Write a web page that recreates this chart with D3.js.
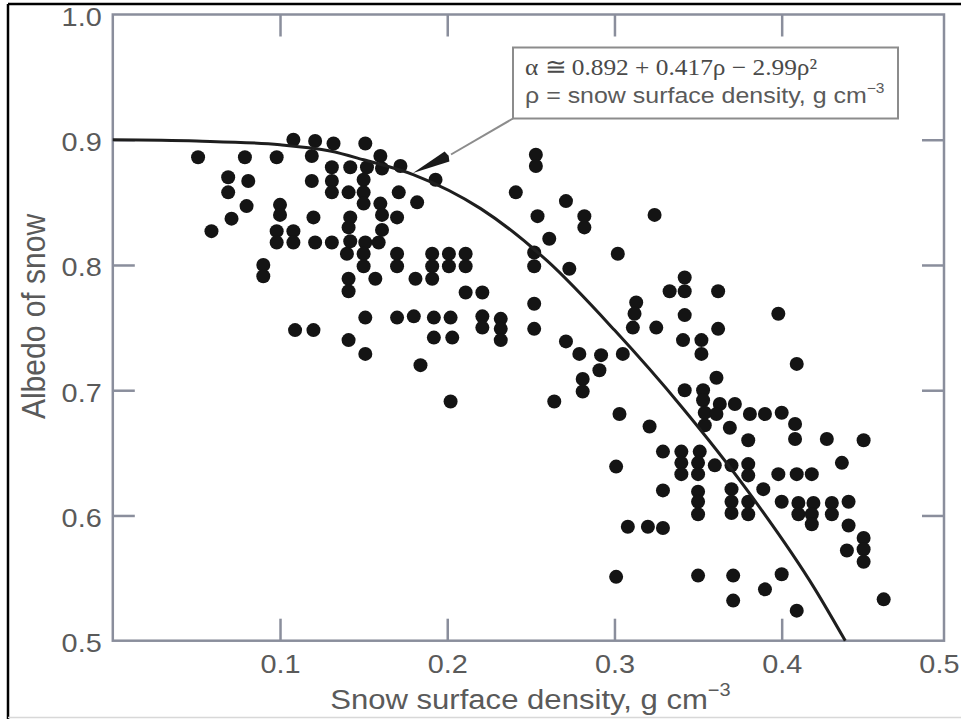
<!DOCTYPE html>
<html><head><meta charset="utf-8">
<script src="https://cdn.jsdelivr.net/npm/d3@7"></script>
<style>body{margin:0;background:#fff}svg{display:block}</style></head>
<body><svg id="c" width="961" height="719"></svg>
<script>
// ---------- data ----------
const xTicks = [0.1, 0.2, 0.3, 0.4, 0.5];
const yTicks = [0.5, 0.6, 0.7, 0.8, 0.9, 1.0];
const xTitle = "Snow surface density, g cm";
const xTitleSup = "\u22123";
const yTitle = "Albedo of snow";
const noteLine1 = "\u03b1 \u2245 0.892 + 0.417\u03c1 \u2212 2.99\u03c1\u00b2";
const noteLine2 = "\u03c1 = snow surface density, g cm";
const noteSup = "\u22123";

const density = [
0.051,0.059,0.069,0.069,0.071,0.079,0.080,0.081,0.090,0.090,
0.098,0.100,0.100,0.098,0.098,0.108,0.108,0.108,0.109,0.120,
0.121,0.119,0.119,0.120,0.121,0.131,0.131,0.131,0.131,0.132,
0.142,0.141,0.142,0.141,0.142,0.140,0.141,0.141,0.141,0.151,
0.152,0.150,0.150,0.150,0.151,0.150,0.150,0.151,0.151,0.160,
0.161,0.160,0.161,0.161,0.159,0.157,0.172,0.171,0.170,0.170,
0.170,0.170,0.180,0.182,0.181,0.184,0.193,0.191,0.191,0.191,
0.192,0.192,0.201,0.201,0.202,0.203,0.202,0.211,0.211,0.211,
0.221,0.221,0.221,0.232,0.232,0.232,0.241,0.253,0.253,0.254,
0.261,0.252,0.252,0.271,0.282,0.282,0.273,0.302,0.252,0.252,
0.271,0.279,0.292,0.291,0.305,0.281,0.281,0.264,0.303,0.301,
0.301,0.308,0.320,0.329,0.324,0.313,0.312,0.311,0.325,0.333,
0.342,0.342,0.342,0.341,0.352,0.352,0.362,0.362,0.398,0.409,
0.361,0.342,0.353,0.353,0.363,0.372,0.354,0.361,0.354,0.381,
0.390,0.400,0.321,0.369,0.408,0.408,0.380,0.427,0.449,0.329,
0.340,0.351,0.340,0.350,0.360,0.370,0.380,0.340,0.350,0.380,
0.398,0.409,0.418,0.436,0.329,0.350,0.350,0.350,0.370,0.370,
0.370,0.380,0.380,0.389,0.400,0.410,0.410,0.419,0.418,0.418,
0.430,0.430,0.440,0.440,0.449,0.449,0.449,0.439,0.350,0.371,
0.371,0.390,0.400,0.409,0.461
];
const albedo = [
0.886,0.827,0.870,0.858,0.837,0.886,0.847,0.867,0.800,0.791,
0.886,0.848,0.840,0.827,0.818,0.900,0.827,0.818,0.748,0.748,
0.899,0.887,0.867,0.838,0.818,0.878,0.867,0.858,0.818,0.897,
0.878,0.858,0.838,0.830,0.819,0.809,0.789,0.779,0.740,0.897,
0.878,0.868,0.858,0.849,0.818,0.809,0.799,0.758,0.729,0.887,
0.877,0.849,0.840,0.828,0.818,0.789,0.879,0.858,0.838,0.809,
0.799,0.758,0.759,0.850,0.789,0.720,0.868,0.809,0.799,0.789,
0.758,0.742,0.809,0.799,0.758,0.742,0.691,0.809,0.799,0.778,
0.778,0.759,0.750,0.757,0.749,0.740,0.858,0.888,0.879,0.839,
0.821,0.810,0.799,0.851,0.839,0.830,0.797,0.809,0.769,0.749,
0.739,0.729,0.728,0.716,0.729,0.709,0.699,0.691,0.681,0.639,
0.551,0.591,0.591,0.590,0.840,0.770,0.761,0.750,0.750,0.779,
0.790,0.779,0.760,0.740,0.740,0.729,0.779,0.749,0.761,0.721,
0.710,0.700,0.700,0.692,0.689,0.689,0.682,0.681,0.672,0.681,
0.681,0.682,0.671,0.670,0.673,0.661,0.660,0.661,0.660,0.651,
0.651,0.651,0.642,0.642,0.640,0.640,0.641,0.633,0.633,0.632,
0.633,0.633,0.633,0.642,0.620,0.619,0.611,0.601,0.621,0.611,
0.602,0.611,0.601,0.621,0.611,0.610,0.601,0.610,0.601,0.593,
0.610,0.601,0.611,0.592,0.582,0.573,0.563,0.572,0.552,0.552,
0.532,0.541,0.553,0.524,0.533
];
const fitDensity = [0, 0.05, 0.10, 0.13, 0.15, 0.18, 0.22, 0.26, 0.30, 0.34, 0.38, 0.42, 0.438];
const fitAlbedo  = [0.900, 0.899, 0.896, 0.891, 0.884, 0.872, 0.845, 0.803, 0.748, 0.687, 0.619, 0.541, 0.500];

// ---------- layout ----------
const svg = d3.select("#c");
const x = d3.scaleLinear().domain([0, 0.5]).range([112.8, 948.9]);
const y = d3.scaleLinear().domain([0.5, 1.0]).range([640.7, 14.5]);
const L = x(0), R = 944, T = y(1.0), B = y(0.5);
const axisCol = "#8a8e9c", textCol = "#5a5a5a";
const sans = "'Liberation Sans', Arial, sans-serif";
const serif = "'Liberation Serif', 'Times New Roman', serif";

svg.append("rect").attr("width", 961).attr("height", 719).attr("fill", "#fff");
// outer frame (image border)
svg.append("line").attr("x1", 8).attr("x2", 961).attr("y1", 4).attr("y2", 4).attr("stroke", "#000").attr("stroke-width", 2.5);
svg.append("line").attr("x1", 8).attr("x2", 8).attr("y1", 4).attr("y2", 719).attr("stroke", "#000").attr("stroke-width", 2.5);
svg.append("line").attr("x1", 8).attr("x2", 961).attr("y1", 717.5).attr("y2", 717.5).attr("stroke", "#d8d8d8").attr("stroke-width", 1.5);

function styleAxis(g) {
  g.select(".domain").remove();
  g.selectAll(".tick line").attr("stroke", axisCol).attr("stroke-width", 2.5);
  g.selectAll(".tick text").attr("fill", textCol).style("font-family", sans).style("font-size", "26px");
}
const fmt = d3.format(".1f");

const gB = svg.append("g").attr("transform", `translate(0,${B})`)
  .call(d3.axisBottom(x).tickValues(xTicks).tickSize(-22).tickPadding(13.5).tickFormat(fmt));
styleAxis(gB);
gB.selectAll(".tick").filter(d => d >= 0.5).select("line").remove();
gB.selectAll(".tick text").attr("transform", "scale(1.11,1)");
gB.selectAll(".tick").filter(d => d >= 0.5).select("text").attr("x", -9);

const gL = svg.append("g").attr("transform", `translate(${L},0)`)
  .call(d3.axisLeft(y).tickValues(yTicks).tickSize(-22).tickPadding(10).tickFormat(fmt));
styleAxis(gL);
gL.selectAll(".tick").filter(d => d <= 0.5 || d >= 1.0).select("line").remove();
gL.selectAll(".tick text").attr("dy", "0.42em").attr("transform", "scale(1.11,1)");

const gT = svg.append("g").attr("transform", `translate(0,${T})`)
  .call(d3.axisTop(x).tickValues(xTicks.filter(d => d < 0.5)).tickSize(-22).tickFormat(""));
styleAxis(gT);
const gR = svg.append("g").attr("transform", `translate(${R},0)`)
  .call(d3.axisRight(y).tickValues(yTicks.filter(d => d > 0.5 && d < 1.0)).tickSize(-22).tickFormat(""));
styleAxis(gR);

svg.append("rect").attr("x", L).attr("y", T).attr("width", R - L).attr("height", B - T)
  .attr("fill", "none").attr("stroke", axisCol).attr("stroke-width", 2.5);

// points
const pts = density.map((d, i) => [d, albedo[i]]);
svg.append("g").selectAll("circle").data(pts).join("circle")
  .attr("cx", d => x(d[0])).attr("cy", d => y(d[1])).attr("r", 7).attr("fill", "#141414");

// fitted curve
const fit = fitDensity.map((d, i) => [d, fitAlbedo[i]]);
svg.append("path").datum(fit)
  .attr("d", d3.line().x(d => x(d[0])).y(d => y(d[1])).curve(d3.curveMonotoneX))
  .attr("fill", "none").attr("stroke", "#1e1e1e").attr("stroke-width", 3);

// annotation box + arrow
const box = {x: 513, y: 47.5, w: 385, h: 71};
const tip = [413, 173], base = [447, 156.5];
svg.append("line").attr("x1", box.x).attr("y1", box.y + box.h).attr("x2", base[0] + 4).attr("y2", base[1] - 2)
  .attr("stroke", "#8c8c8c").attr("stroke-width", 2);
{
  const dx = tip[0] - base[0], dy = tip[1] - base[1], len = Math.hypot(dx, dy);
  const px = -dy / len * 5.5, py = dx / len * 5.5;
  svg.append("polygon")
    .attr("points", [[tip[0], tip[1]], [base[0] + px, base[1] + py], [base[0] - 1.8 * dx / len, base[1] - 1.8 * dy / len], [base[0] - px, base[1] - py]].map(p => p.join(",")).join(" "))
    .attr("fill", "#1a1a1a");
}
svg.append("rect").attr("x", box.x).attr("y", box.y).attr("width", box.w).attr("height", box.h)
  .attr("fill", "#fff").attr("stroke", "#8c8c8c").attr("stroke-width", 2);
svg.append("g").attr("transform", "translate(525,75) scale(1.08,1)")
  .append("text").attr("fill", "#4a4a4a").style("font-family", serif).style("font-size", "23.5px").text(noteLine1);
const t2 = svg.append("g").attr("transform", "translate(525,103) scale(1.11,1)")
  .append("text").attr("fill", textCol).style("font-family", sans).style("font-size", "22.5px");
t2.append("tspan").text(noteLine2);
t2.append("tspan").attr("dy", -10).style("font-size", "14px").text(noteSup);

// axis titles
const xt = svg.append("g").attr("transform", `translate(${(L + R) / 2 + 2},709)  scale(1.11,1)`)
  .append("text").attr("text-anchor", "middle").attr("fill", textCol).style("font-family", sans).style("font-size", "28px");
xt.append("tspan").text(xTitle);
xt.append("tspan").attr("dy", -13).style("font-size", "18px").text(xTitleSup);

svg.append("text").attr("transform", "translate(45,316.5) scale(1.12,1) rotate(-90)")
  .attr("text-anchor", "middle").attr("fill", textCol).style("font-family", sans).style("font-size", "30px").text(yTitle);
</script></body></html>
